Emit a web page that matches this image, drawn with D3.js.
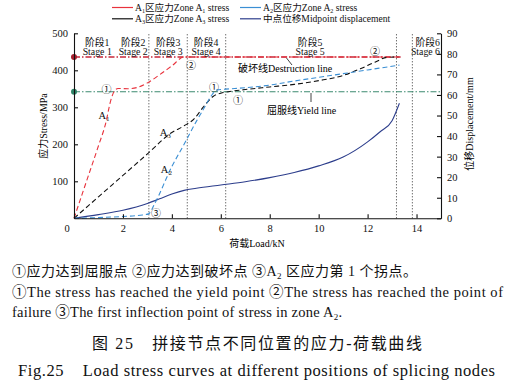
<!DOCTYPE html>
<html>
<head>
<meta charset="utf-8">
<script src="https://d3js.org/d3.v7.min.js"></script>
<style>
  body { margin: 0; background: #fff; }
  text { font-family: "Liberation Serif", "Noto Sans CJK SC", serif; }
</style>
</head>
<body>
<div id="chart"></div>
<script>
// load values (kN) and stresses (MPa)
var a1Load   = [0, 0.5, 1.0, 1.3, 1.5, 1.65, 1.8, 2.2, 2.6, 3.0, 3.5, 4.0, 4.5, 13.3];
var a1Stress = [0, 98, 196, 258, 318, 344, 351, 350, 354, 366, 388, 412, 436, 436];

var a2Load   = [0, 1.0, 2.0, 2.8, 3.05, 3.3, 4.0, 4.5, 5.0, 5.3, 5.6, 5.85, 6.2, 7.0, 8.0, 9.0, 10.0, 11.0, 12.0, 13.3];
var a2Stress = [0, 2, 5, 9, 12, 40, 140, 200, 262, 296, 330, 347, 349, 353, 360, 371, 381, 391, 401, 414];

var a3Load   = [0, 1.0, 2.0, 3.0, 4.0, 4.5, 4.9, 5.3, 5.7, 6.0, 6.3, 7.0, 8.0, 9.0, 10.0, 11.0, 11.7, 12.3, 12.8, 13.25];
var a3Stress = [0, 58, 116, 174, 232, 250, 268, 302, 330, 338, 342, 348, 355, 362, 372, 386, 404, 422, 435, 436];

var dispLoad = [0, 1, 2, 3, 3.5, 4, 4.5, 5, 6, 7, 8, 9, 10, 11, 12, 12.5, 13, 13.3];
var dispMm   = [0, 1.8, 3.9, 7.2, 9.5, 11.8, 13.6, 14.6, 16.2, 17.8, 19.8, 22.3, 25.5, 29.8, 37.2, 42, 47.5, 56];

var yieldStress = 342;
var failStress = 436;
var failEnd = 13.35;

var stageBounds = [3.06, 4.63, 6.2, 13.18, 13.83];
var stageNames = ["阶段1", "阶段2", "阶段3", "阶段4", "阶段5", "阶段6"];
var stageEn = ["Stage 1", "Stage 2", "Stage 3", "Stage 4", "Stage 5", "Stage 6"];
var stageAt = [0.95, 2.42, 3.85, 5.4, 9.65, 14.25];

// circled point markers [load, stress, label]
var marks = [
  [1.33, 349, "①"], [5.72, 356, "①"], [6.7, 320, "①"],
  [4.78, 414, "②"], [12.3, 452, "②"], [3.35, 13, "③"]
];
var curveLabels = [[1.0, 278, "A", "1"], [3.5, 232, "A", "3"], [3.55, 133, "A", "2"]];

var width = 521, height = 388;
var svg = d3.select("#chart").append("svg")
    .attr("width", width).attr("height", height);

var x = d3.scaleLinear().domain([0, 15]).range([74, 441]);
var y = d3.scaleLinear().domain([0, 500]).range([218.3, 33.3]);
var y2 = d3.scaleLinear().domain([0, 90]).range([218.3, 33.3]);

// stage dividers
svg.append("g").selectAll("line").data(stageBounds).join("line")
    .attr("x1", d => x(d)).attr("x2", d => x(d))
    .attr("y1", y(0)).attr("y2", y(500))
    .attr("stroke", "#333").attr("stroke-width", 1)
    .attr("stroke-dasharray", "1,2");

// reference lines
svg.append("line")
    .attr("x1", x(0)).attr("x2", x(15)).attr("y1", y(yieldStress)).attr("y2", y(yieldStress))
    .attr("stroke", "#3d8a70").attr("stroke-width", 1.2).attr("stroke-dasharray", "6,2,1.5,2");
svg.append("line")
    .attr("x1", x(0)).attr("x2", x(failEnd)).attr("y1", y(failStress)).attr("y2", y(failStress))
    .attr("stroke", "#c8283a").attr("stroke-width", 1.4).attr("stroke-dasharray", "6,2,1.5,2");
svg.append("circle").attr("cx", x(0)).attr("cy", y(yieldStress)).attr("r", 3).attr("fill", "#2f8468");
svg.append("circle").attr("cx", x(0)).attr("cy", y(failStress)).attr("r", 3).attr("fill", "#a82030");

function zip(a, b) { return a.map((v, i) => [v, b[i]]); }

var line = d3.line().x(d => x(d[0])).y(d => y(d[1])).curve(d3.curveMonotoneX);
var line2 = d3.line().x(d => x(d[0])).y(d => y2(d[1])).curve(d3.curveMonotoneX);

svg.append("path").datum(zip(dispLoad, dispMm)).attr("d", line2)
    .attr("fill", "none").attr("stroke", "#2d3e8c").attr("stroke-width", 1.1);
svg.append("path").datum(zip(a3Load, a3Stress)).attr("d", line)
    .attr("fill", "none").attr("stroke", "#111").attr("stroke-width", 1.1).attr("stroke-dasharray", "5,3");
svg.append("path").datum(zip(a2Load, a2Stress)).attr("d", line)
    .attr("fill", "none").attr("stroke", "#3b8fd4").attr("stroke-width", 1.1).attr("stroke-dasharray", "5,3");
svg.append("path").datum(zip(a1Load, a1Stress)).attr("d", line)
    .attr("fill", "none").attr("stroke", "#e8323c").attr("stroke-width", 1.1).attr("stroke-dasharray", "5,3");

// axes
var axL = svg.append("g").attr("transform", "translate(" + x(0) + ",0)")
    .call(d3.axisLeft(y).tickValues([100, 200, 300, 400, 500]).tickSizeInner(-4).tickSizeOuter(0).tickPadding(6));
var axB = svg.append("g").attr("transform", "translate(0," + y(0) + ")")
    .call(d3.axisBottom(x).tickValues([0, 2, 4, 6, 8, 10, 12, 14]).tickSizeInner(-4).tickSizeOuter(0).tickPadding(6));
var axR = svg.append("g").attr("transform", "translate(" + x(15) + ",0)")
    .call(d3.axisRight(y2).tickValues(d3.range(0, 91, 10)).tickSizeInner(-4).tickSizeOuter(0).tickPadding(6));
[axL, axB, axR].forEach(function (g) {
  g.attr("font-family", null);
  g.selectAll("path, line").attr("stroke", "#111").attr("stroke-width", 1.1);
  g.selectAll("text").attr("font-size", 10.5).attr("fill", "#111");
});
axB.selectAll(".tick").filter(d => d === 0).select("text").attr("x", -7.5);

// axis titles
svg.append("text").attr("x", 257).attr("y", 247).attr("text-anchor", "middle")
    .attr("font-size", 10).text("荷载Load/kN");
svg.append("text").attr("transform", "translate(47,126) rotate(-90)").attr("text-anchor", "middle")
    .attr("font-size", 10).text("应力Stress/MPa");
svg.append("text").attr("transform", "translate(473,124) rotate(-90)").attr("text-anchor", "middle")
    .attr("font-size", 10).text("位移Displacement/mm");

// stage labels
var st = svg.append("g").attr("font-size", 9.8).attr("text-anchor", "middle").attr("fill", "#111");
stageAt.forEach(function (s, i) {
  st.append("text").attr("x", x(s)).attr("y", 45.5).text(stageNames[i]);
  st.append("text").attr("x", x(s)).attr("y", 55).text(stageEn[i]);
});
st.selectAll("text").filter((d, i) => i >= 10).attr("text-anchor", "end").attr("x", 440);

// markers
svg.append("g").selectAll("text").data(marks).join("text")
    .attr("x", d => x(d[0])).attr("y", d => y(d[1]) + 4)
    .attr("text-anchor", "middle").attr("font-size", 10).attr("fill", "#111")
    .text(d => d[2]);

// curve names with subscripts
curveLabels.forEach(function (c) {
  var t = svg.append("text").attr("x", x(c[0])).attr("y", y(c[1]) + 4).attr("font-size", 10.5).attr("fill", "#111");
  t.append("tspan").text(c[2]);
  t.append("tspan").attr("font-size", 7).attr("dy", 2).text(c[3]);
});

// reference line notes
svg.append("text").attr("x", 238).attr("y", 72).attr("font-size", 10).text("破坏线Destruction line");
svg.append("line").attr("x1", 286.5).attr("y1", 58).attr("x2", 292).attr("y2", 65).attr("stroke", "#111").attr("stroke-width", 0.8);
svg.append("text").attr("x", 267).attr("y", 114).attr("font-size", 10).text("屈服线Yield line");
svg.append("line").attr("x1", 311).attr("y1", 93).attr("x2", 311).attr("y2", 102).attr("stroke", "#111").attr("stroke-width", 0.8);

// legend
var legend = [
  ["#e8323c", 112, 7.5, "1", "A", "区应力Zone A", " stress"],
  ["#111", 112, 18.8, "3", "A", "区应力Zone A", " stress"],
  ["#3b8fd4", 240, 7.5, "2", "A", "区应力Zone A", " stress"],
  ["#2d3e8c", 240, 18.8, null, "中点位移Midpoint displacement"]
];
legend.forEach(function (l) {
  svg.append("line").attr("x1", l[1]).attr("x2", l[1] + 21).attr("y1", l[2]).attr("y2", l[2])
      .attr("stroke", l[0]).attr("stroke-width", 1.2);
  var t = svg.append("text").attr("x", l[1] + 23).attr("y", l[2] + 3.5).attr("font-size", 9.6).attr("fill", "#111");
  if (l[3] === null) { t.text(l[4]); return; }
  t.append("tspan").text(l[4]);
  t.append("tspan").attr("font-size", 6.2).attr("dy", 1.5).text(l[3]);
  t.append("tspan").attr("dy", -1.5).text(l[5]);
  t.append("tspan").attr("font-size", 6.2).attr("dy", 1.5).text(l[3]);
  t.append("tspan").attr("dy", -1.5).text(l[6]);
});

// caption
var cap = svg.append("g").attr("fill", "#111");
var c1 = cap.append("text").attr("x", 12).attr("y", 276).attr("font-size", 14)
    .attr("textLength", 405).attr("lengthAdjust", "spacing");
c1.append("tspan").text("①应力达到屈服点 ②应力达到破坏点 ③A");
c1.append("tspan").attr("font-size", 9).attr("dy", 3).text("2");
c1.append("tspan").attr("dy", -3).text(" 区应力第 1 个拐点。");
cap.append("text").attr("x", 12).attr("y", 296.5).attr("font-size", 14.5)
    .attr("textLength", 491).attr("lengthAdjust", "spacing")
    .text("①The stress has reached the yield point ②The stress has reached the point of");
var c3 = cap.append("text").attr("x", 12).attr("y", 316.5).attr("font-size", 14.5)
    .attr("textLength", 330).attr("lengthAdjust", "spacing");
c3.append("tspan").text("failure ③The first inflection point of stress in zone A");
c3.append("tspan").attr("font-size", 9).attr("dy", 3).text("2");
c3.append("tspan").attr("dy", -3).text(".");
cap.append("text").attr("x", 92).attr("y", 349).attr("font-size", 16)
    .attr("textLength", 330).attr("lengthAdjust", "spacing")
    .text("图 25　拼接节点不同位置的应力-荷载曲线");
cap.append("text").attr("x", 18).attr("y", 376).attr("font-size", 16.5)
    .attr("textLength", 477).attr("lengthAdjust", "spacing")
    .attr("xml:space", "preserve")
    .text("Fig.25    Load stress curves at different positions of splicing nodes");
</script>
</body>
</html>
